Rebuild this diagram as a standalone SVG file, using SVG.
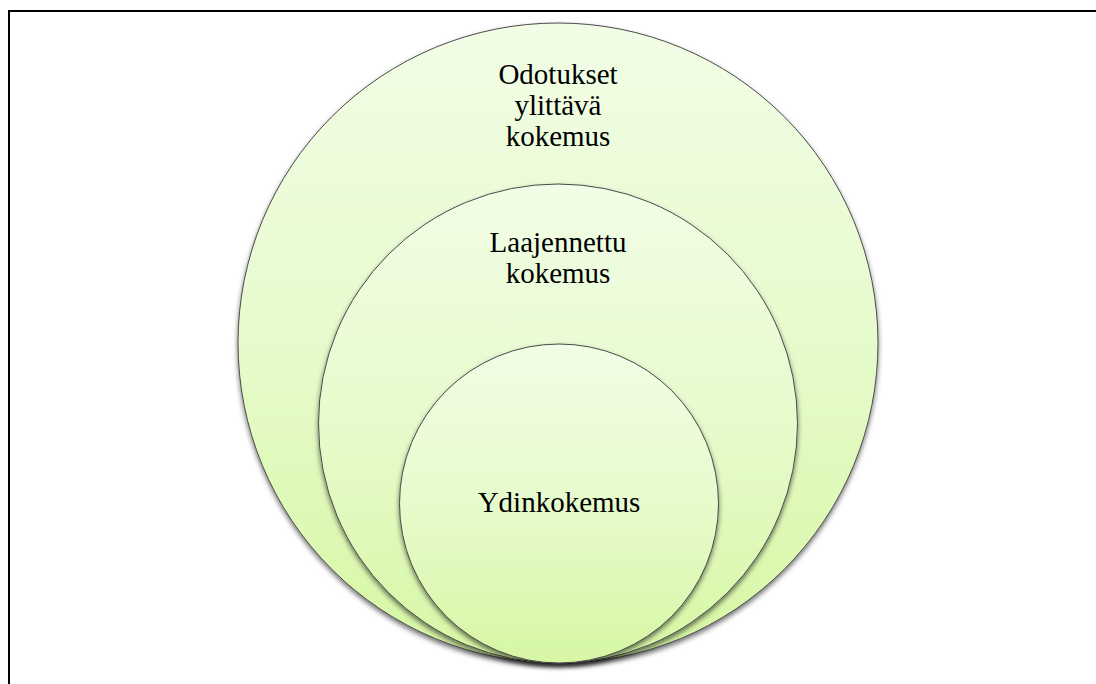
<svg xmlns="http://www.w3.org/2000/svg" width="1096" height="684" viewBox="0 0 1096 684">
  <defs>
    <linearGradient id="fillGrad" x1="0" y1="0" x2="0" y2="1">
      <stop offset="0" stop-color="#f2fde6"/>
      <stop offset="0.5" stop-color="#e6fbcc"/>
      <stop offset="1" stop-color="#d6f7a4"/>
    </linearGradient>
    <filter id="shadow" x="-10%" y="-10%" width="120%" height="125%">
      <feDropShadow dx="0" dy="3" stdDeviation="2.5" flood-color="#000" flood-opacity="0.55"/>
    </filter>
  </defs>
  <style>
    .ring { fill: url(#fillGrad); stroke: #4a4a4a; stroke-width: 1; filter: url(#shadow); }
    .lbl { font-size: 29px; fill: #000; text-anchor: middle; }
    .frame { stroke: #000; stroke-width: 2; fill: none; }
  </style>
  <rect width="1096" height="684" fill="#ffffff"/>
  <path class="frame" d="M9 684 V11 H1096"/>
  <g id="outer">
    <circle class="ring" cx="558" cy="343" r="320"/>
    <text class="lbl" font-family="'Liberation Serif', 'DejaVu Serif', serif" x="558" y="84">Odotukset</text>
    <text class="lbl" font-family="'Liberation Serif', 'DejaVu Serif', serif" x="558" y="115">ylittävä</text>
    <text class="lbl" font-family="'Liberation Serif', 'DejaVu Serif', serif" x="558" y="146">kokemus</text>
  </g>
  <g id="middle">
    <circle class="ring" cx="558" cy="423.5" r="239.5"/>
    <text class="lbl" font-family="'Liberation Serif', 'DejaVu Serif', serif" x="558" y="252">Laajennettu</text>
    <text class="lbl" font-family="'Liberation Serif', 'DejaVu Serif', serif" x="558" y="283">kokemus</text>
  </g>
  <g id="inner">
    <circle class="ring" cx="559" cy="503.5" r="159.5"/>
    <text class="lbl" font-family="'Liberation Serif', 'DejaVu Serif', serif" x="559" y="512">Ydinkokemus</text>
  </g>
  <g id="connectors"></g>
</svg>
